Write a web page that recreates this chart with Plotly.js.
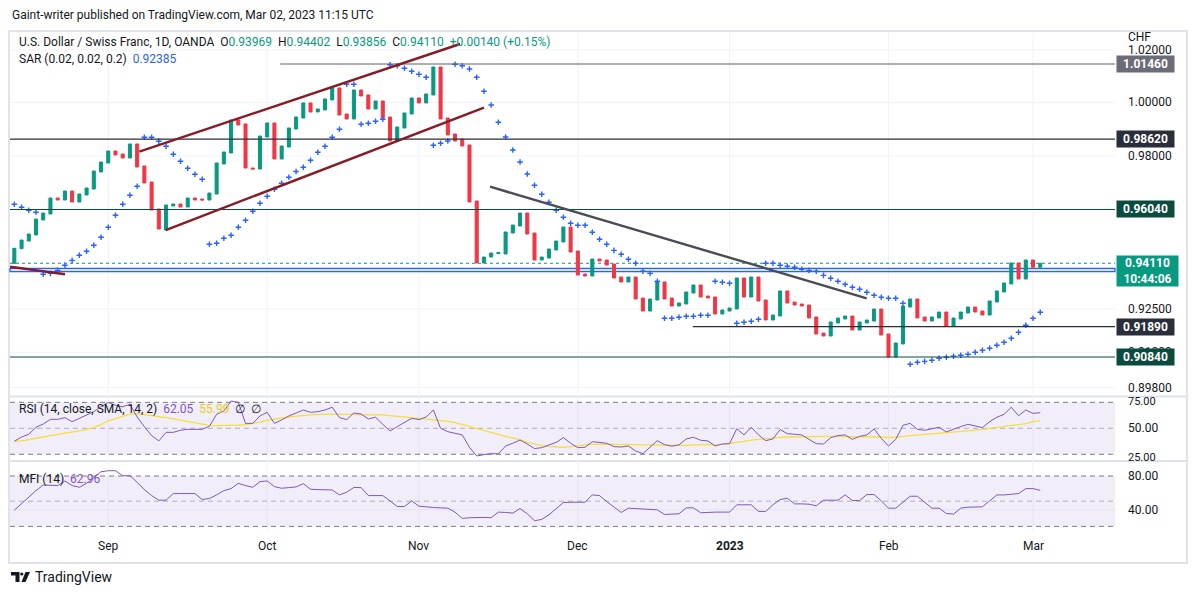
<!DOCTYPE html>
<html><head><meta charset="utf-8">
<script src="https://cdn.plot.ly/plotly-3.0.1.min.js"></script>
<style>html,body{margin:0;padding:0;background:#fff;overflow:hidden}#chart{width:1194px;height:595px}</style>
</head><body><div id="chart"></div>
<script>
// ---------- DATA ----------
const opens=[0.94109,0.94629,0.94904,0.95120,0.95659,0.95876,0.96457,0.96384,0.96712,0.96311,
0.96566,0.96785,0.97408,0.97739,0.98183,0.98072,0.97924,0.98443,0.97629,0.97040,
0.96057,0.95299,0.96166,0.96239,0.96130,0.96457,0.96420,0.96384,0.96602,0.97702,
0.98109,0.99338,0.99189,0.97555,0.97518,0.98703,0.99226,0.97887,0.98331,0.99001,
0.99413,0.99978,0.99639,0.99714,1.00091,1.00545,0.99564,0.99376,1.00469,1.00280,
0.99752,1.00053,0.99451,0.98554,0.99039,0.99564,1.00167,0.99978,1.00280,1.01345,
0.99413,0.98815,0.98628,0.98406,0.96348,0.94120,0.94333,0.94457,0.94440,0.95191,
0.95443,0.95912,0.95191,0.94226,0.94297,0.94582,0.94868,0.95407,0.94546,0.93730,
0.93659,0.94262,0.94226,0.94084,0.93624,0.93448,0.93624,0.92885,0.92430,0.92815,
0.93448,0.92885,0.92605,0.92675,0.93061,0.93342,0.92955,0.92920,0.92326,0.92430,
0.92500,0.93589,0.92920,0.93624,0.92815,0.92117,0.92256,0.93131,0.92745,0.92675,
0.92640,0.92222,0.91666,0.91563,0.92013,0.92152,0.92256,0.91770,0.92013,0.92082,
0.92500,0.91632,0.90840,0.91287,0.92570,0.92850,0.92222,0.92082,0.92187,0.92395,
0.91909,0.92152,0.92361,0.92570,0.92430,0.92291,0.92745,0.93096,0.93378,0.94120,
0.93553,0.94226,0.93969];
const closes=[0.94643,0.94940,0.95155,0.95695,0.95912,0.96457,0.96384,0.96712,0.96311,0.96602,
0.96821,0.97444,0.97776,0.98183,0.98035,0.97924,0.98443,0.97592,0.97004,0.96021,
0.95335,0.96203,0.96239,0.96130,0.96457,0.96384,0.96384,0.96639,0.97739,0.98146,
0.99338,0.99151,0.97555,0.97518,0.98740,0.99226,0.97887,0.98368,0.99039,0.99451,
0.99978,0.99639,0.99752,1.00129,1.00545,0.99526,0.99376,1.00469,1.00242,0.99752,
1.00053,0.99413,0.98554,0.99076,0.99601,1.00167,0.99978,1.00318,1.01345,0.99376,
0.98778,0.98554,0.98368,0.96311,0.94120,0.94333,0.94475,0.94493,0.95227,0.95479,
0.95912,0.95155,0.94226,0.94333,0.94618,0.94904,0.95407,0.94511,0.93695,0.93659,
0.94262,0.94191,0.94049,0.93589,0.93448,0.93624,0.92850,0.92430,0.92850,0.93448,
0.92850,0.92605,0.92710,0.93096,0.93342,0.92920,0.92885,0.92326,0.92465,0.92535,
0.93589,0.92920,0.93624,0.92780,0.92117,0.92291,0.93131,0.92710,0.92640,0.92605,
0.92187,0.91632,0.91563,0.92048,0.92187,0.92256,0.91770,0.92048,0.92117,0.92500,
0.91597,0.90840,0.91322,0.92605,0.92850,0.92187,0.92082,0.92222,0.92395,0.91909,
0.92187,0.92395,0.92570,0.92395,0.92291,0.92780,0.93131,0.93413,0.94120,0.93553,
0.94226,0.93969,0.94110];
const sar=[0.96228,0.96119,0.96010,0.95938,0.93719,0.93754,0.93860,0.94038,0.94215,0.94393,
0.94536,0.94750,0.95037,0.95396,0.95829,0.96228,0.96555,0.96883,0.98692,0.98692,
0.98543,0.98357,0.98061,0.97802,0.97544,0.97323,0.97140,0.94786,0.94822,0.95001,
0.95109,0.95396,0.95648,0.95974,0.96264,0.96519,0.96774,0.96993,0.97213,0.97426,
0.97581,0.97839,0.98135,0.98357,0.98692,0.98990,1.00686,1.00686,0.99177,0.99215,
0.99289,0.99364,1.01433,1.01395,1.01295,1.01180,1.01066,1.00952,0.98394,0.98469,
0.98554,1.01448,1.01395,1.01268,1.00952,1.00420,0.99903,0.99252,0.98703,0.98220,
0.97776,0.97334,0.96920,0.96591,0.96300,0.96010,0.95757,0.95540,0.95468,0.95468,
0.95216,0.94965,0.94786,0.94571,0.94429,0.94251,0.94109,0.93825,0.93754,0.93472,
0.92176,0.92176,0.92211,0.92246,0.92246,0.92281,0.92281,0.93472,0.93437,0.93402,
0.92002,0.92037,0.92072,0.92141,0.94109,0.94109,0.94038,0.94002,0.93967,0.93896,
0.93860,0.93825,0.93683,0.93578,0.93472,0.93367,0.93261,0.93191,0.93085,0.92980,
0.92910,0.92875,0.92875,0.92700,0.90590,0.90658,0.90692,0.90727,0.90795,0.90830,
0.90864,0.90898,0.90933,0.91001,0.91070,0.91139,0.91242,0.91346,0.91484,0.91691,
0.91933,0.92176,0.92385];
const rsi=[40.0,43.3,45.4,50.8,53.3,56.9,56.9,58.2,55.1,57.7,
59.7,62.8,66.7,70.0,67.7,66.5,68.5,58.7,51.3,44.4,
40.3,46.9,46.9,48.5,49.2,49.2,49.2,51.5,60.8,63.3,
71.0,70.0,53.8,53.8,59.5,62.3,53.8,56.4,59.5,61.8,
64.1,62.3,62.8,64.1,66.2,58.2,56.7,61.8,61.0,57.2,
58.5,53.1,47.9,51.3,54.4,57.7,56.7,58.7,64.1,50.0,
47.4,46.2,44.9,35.4,28.7,29.7,30.5,30.3,36.4,38.5,
41.0,37.9,34.4,35.1,37.2,39.2,42.8,38.5,35.1,35.4,
39.7,39.2,38.5,35.9,35.6,36.4,32.6,30.5,35.4,40.5,
37.4,36.2,37.2,41.8,43.1,40.8,40.3,36.4,37.9,38.2,
49.7,44.9,50.8,44.9,40.5,41.8,49.0,45.9,45.4,44.9,
41.5,38.2,37.9,42.8,44.4,44.9,41.5,43.8,44.9,49.5,
42.3,36.4,41.5,52.3,53.8,49.2,48.5,49.5,50.8,47.2,
49.5,51.3,53.1,51.8,50.5,55.1,58.5,60.8,66.2,59.7,
64.1,61.5,62.05];
const rsiMa=[40.0,40.3,41.3,42.1,43.3,44.4,45.3,46.2,47.1,47.9,
49.0,50.8,52.8,55.8,57.7,59.5,61.0,61.3,60.7,59.8,
59.0,58.2,57.2,56.2,54.9,53.9,52.9,52.2,52.1,52.1,
52.1,52.4,52.9,53.6,54.8,56.2,57.2,58.1,58.7,59.4,
60.0,60.4,60.8,60.9,61.0,60.9,60.8,60.8,60.3,60.3,
60.3,60.3,59.7,59.2,58.7,58.1,57.6,57.2,56.8,56.2,
55.4,54.3,52.8,51.3,49.6,47.8,46.4,45.1,43.8,42.5,
41.2,39.2,37.8,36.7,35.9,35.4,35.4,35.9,36.7,37.2,
37.6,37.9,37.8,37.7,37.6,37.3,37.1,37.0,36.9,36.8,
36.7,36.7,36.8,36.9,37.2,37.3,37.4,37.4,37.7,38.5,
39.0,40.0,40.9,41.5,41.9,42.5,43.1,43.3,43.5,43.6,
43.7,43.8,43.8,43.8,43.8,43.8,43.8,43.7,43.6,43.6,
43.3,42.9,43.1,43.8,44.4,44.9,45.2,45.5,45.9,46.4,
46.9,47.4,47.9,48.4,49.0,50.0,50.8,51.5,52.1,52.7,
53.6,55.1,55.99];
const mfi=[39.3,47.2,55.9,62.6,69.3,68.6,68.6,74.1,68.6,66.6,
71.3,78.0,85.1,86.3,86.3,80.4,80.4,72.5,63.8,56.7,
51.2,51.2,59.1,59.1,59.1,59.1,52.0,53.2,57.5,62.6,
65.0,71.3,68.6,66.6,73.3,74.1,67.4,65.4,66.2,67.0,
70.9,64.2,63.8,63.8,63.4,57.5,60.7,66.4,66.2,56.7,
56.7,56.7,50.4,43.7,43.7,50.4,44.1,42.9,42.5,42.1,
41.7,37.0,29.5,30.3,30.7,30.7,30.3,37.0,36.6,35.8,
41.3,35.0,26.7,28.3,33.8,40.9,48.4,48.8,48.8,48.8,
57.5,56.7,49.6,43.3,36.6,41.7,41.3,40.5,40.5,39.7,
34.2,34.2,35.0,42.1,42.1,36.2,37.0,37.0,37.0,37.0,
45.7,46.0,45.7,37.8,37.8,45.7,52.0,53.5,46.8,46.8,
46.4,44.5,51.2,51.2,51.2,57.5,50.8,50.8,57.9,57.9,
50.4,41.7,41.7,48.8,55.9,55.9,48.8,41.7,41.7,35.4,
34.6,41.7,42.9,43.3,43.3,50.4,57.5,57.5,57.9,59.1,
65.0,65.0,62.96];
const monthLabels=["Sep","Oct","Nov","Dec","2023","Feb","Mar"];
const monthIdx=[13,35,56,78,99,121,141];
const priceTicks=[1.02,1.00,0.98,0.925,0.91,0.898];
const priceTickText=["1.02000","1.00000","0.98000","0.92500","0.91000","0.89800"];
const levelPrices=[1.0146,0.9862,0.9604,0.9189,0.9084];
const levelText=["1.01460","0.98620","0.96040","0.91890","0.90840"];
const levelStartIdx=[36.8,null,null,93.9,null];
const lastPrice=0.94110, lastTimer="10:44:06";
const zonePrices=[0.93931,0.93811];
// trendlines: [idx0, price0, idx1, price1]
const channelUpper=[17.3,0.98157,61.69,1.02228];
const channelLower=[20.96,0.95299,65.01,0.99800];
const shortLine=[-0.6,0.93988,7.02,0.93719];
const downLine=[65.84,0.96869,117.98,0.92875];
const rsiLevels=[70,50,30], mfiLevels=[80,50,20];
const rsiTicks=[75,50,25], mfiTicks=[80,40];

// ---------- LAYOUT HELPERS ----------
const W=1194,H=595;
const PX=x=>x/W, PY=y=>1-y/H;
const L=Math.log10;
const FONT='Roboto, Arial, sans-serif';
const DARK='#131722', GREEN='#089981', RED='#f23645', BLUE='#2962ff', PURPLE='#7e57c2', YEL='#f5df3d';
const idx=opens.map((_,i)=>i);
const highs=opens.map((o,i)=>Math.max(o,closes[i]));
const lows=opens.map((o,i)=>Math.min(o,closes[i]));
const XR=[-0.6,152.35];

const traces=[
 {type:'candlestick',x:idx,open:opens,high:highs,low:lows,close:closes,xaxis:'x',yaxis:'y',
  increasing:{line:{color:GREEN,width:1},fillcolor:GREEN},decreasing:{line:{color:RED,width:1},fillcolor:RED},
  whiskerwidth:0,hoverinfo:'skip',showlegend:false},
 {type:'scatter',mode:'markers',x:idx,y:sar,xaxis:'x',yaxis:'y',
  marker:{symbol:'cross-thin',size:4,color:BLUE,line:{color:BLUE,width:1.4}},hoverinfo:'skip',showlegend:false},
 {type:'scatter',mode:'lines',x:idx,y:rsiMa,xaxis:'x',yaxis:'y2',line:{color:YEL,width:1.3},hoverinfo:'skip',showlegend:false},
 {type:'scatter',mode:'lines',x:idx,y:rsi,xaxis:'x',yaxis:'y2',line:{color:PURPLE,width:1},hoverinfo:'skip',showlegend:false},
 {type:'scatter',mode:'lines',x:idx,y:mfi,xaxis:'x',yaxis:'y3',line:{color:PURPLE,width:1},hoverinfo:'skip',showlegend:false}
];

const shapes=[];
const ann=[];
// frame and separators
shapes.push({type:'rect',xref:'paper',yref:'paper',x0:PX(9),x1:PX(1187),y0:PY(563),y1:PY(31),line:{color:'#e0e3eb',width:2},layer:'below'});
[396.5,461].forEach(y=>shapes.push({type:'line',xref:'paper',yref:'paper',x0:PX(9),x1:PX(1187),y0:PY(y),y1:PY(y),line:{color:'#e0e3eb',width:2},layer:'below'}));
// vertical month grid
monthIdx.forEach(m=>shapes.push({type:'line',xref:'x',yref:'paper',x0:m,x1:m,y0:PY(531),y1:PY(33),line:{color:'#f0f3fa',width:1},layer:'below'}));
// horizontal price grid (shape coordinates on the log axis are given in data values)
priceTicks.forEach(p=>shapes.push({type:'line',xref:'paper',yref:'y',x0:PX(10),x1:PX(1115),y0:p,y1:p,line:{color:'#f0f3fa',width:1},layer:'below'}));
// indicator bands
shapes.push({type:'rect',xref:'paper',yref:'y2',x0:PX(10),x1:PX(1115),y0:30,y1:70,fillcolor:'rgba(126,87,194,0.1)',line:{width:0},layer:'below'});
shapes.push({type:'rect',xref:'paper',yref:'y3',x0:PX(10),x1:PX(1115),y0:20,y1:80,fillcolor:'rgba(126,87,194,0.1)',line:{width:0},layer:'below'});
shapes.push({type:'line',xref:'paper',yref:'y3',x0:PX(10),x1:PX(1115),y0:40,y1:40,line:{color:'#e6e3ee',width:1},layer:'below'});
rsiLevels.forEach(v=>shapes.push({type:'line',xref:'paper',yref:'y2',x0:PX(10),x1:PX(1115),y0:v,y1:v,line:{color:v===50?'rgba(120,123,134,0.55)':'#787b86',width:1,dash:'5px,4px'},layer:'below'}));
mfiLevels.forEach(v=>shapes.push({type:'line',xref:'paper',yref:'y3',x0:PX(10),x1:PX(1115),y0:v,y1:v,line:{color:v===50?'rgba(120,123,134,0.55)':'#787b86',width:1,dash:'5px,4px'},layer:'below'}));
// blue zone
shapes.push({type:'rect',xref:'paper',yref:'y',x0:PX(10),x1:PX(1115),y0:zonePrices[0],y1:zonePrices[1],fillcolor:'rgba(41,98,255,0.18)',line:{color:BLUE,width:1.3},layer:'below'});
// last price dotted line
shapes.push({type:'line',xref:'paper',yref:'y',x0:PX(10),x1:PX(1115),y0:lastPrice,y1:lastPrice,line:{color:GREEN,width:1,dash:'dot'},layer:'below'});
// horizontal levels
const levelColors=['#5d606b','#2a2e39','#0b4a3e','#2a2e39','#0b4a3e'];
const levelBg=['#6a6d78','#2a2e39','#0b4a3e','#2a2e39','#0b4a3e'];
levelPrices.forEach((p,i)=>{
  const s=levelStartIdx[i];
  shapes.push({type:'line',xref:s===null?'paper':'x',yref:'y',x0:s===null?PX(10):s,x1:s===null?PX(1115):XR[1],y0:p,y1:p,line:{color:levelColors[i],width:1.2}});
});
// trendlines
function tl(a,color,w){shapes.push({type:'line',xref:'x',yref:'y',x0:a[0],y0:a[1],x1:a[2],y1:a[3],line:{color:color,width:w}});}
tl(channelUpper,'#861c25',2.4);
tl(channelLower,'#861c25',2.4);
tl(shortLine,'#861c25',2.4);
tl(downLine,'#4a4d57',2.4);

// price tick labels (annotations on the log axis use log10 positions)
priceTicks.forEach((p,i)=>ann.push({xref:'paper',yref:'y',x:PX(1126),y:L(p),xanchor:'left',yanchor:'middle',text:priceTickText[i],showarrow:false,font:{family:FONT,size:12,color:DARK}}));
rsiTicks.forEach((v,i)=>ann.push({xref:'paper',yref:'paper',x:PX(1126),y:PY([401,428.3,457][i]),xanchor:'left',yanchor:'middle',text:v.toFixed(2),showarrow:false,font:{family:FONT,size:i===1?12:11,color:DARK}}));
mfiTicks.forEach(v=>ann.push({xref:'paper',yref:'y3',x:PX(1126),y:v,xanchor:'left',yanchor:'middle',text:v.toFixed(2),showarrow:false,font:{family:FONT,size:12,color:DARK}}));
ann.push({xref:'paper',yref:'paper',x:PX(1126),y:PY(37),xanchor:'left',yanchor:'middle',text:'CHF',showarrow:false,font:{family:FONT,size:12,color:DARK}});
// level boxes
levelPrices.forEach((p,i)=>ann.push({xref:'paper',yref:'y',x:PX(1116),y:L(p),xanchor:'left',yanchor:'middle',text:levelText[i],showarrow:false,
  bgcolor:levelBg[i],width:55,height:14,borderpad:1,font:{family:FONT,size:12,color:'#ffffff',weight:'bold'}}));
ann.push({xref:'paper',yref:'y',x:PX(1116),y:L(lastPrice),xanchor:'left',yanchor:'top',text:lastPrice.toFixed(5)+'<br>'+lastTimer,showarrow:false,
  bgcolor:GREEN,width:59,height:28,borderpad:1,yshift:8,font:{family:FONT,size:12,color:'#ffffff',weight:'bold'}});
// month labels
monthLabels.forEach((m,i)=>ann.push({xref:'x',yref:'paper',x:monthIdx[i],y:PY(546),xanchor:'center',yanchor:'middle',text:m==='2023'?'<b>2023</b>':m,showarrow:false,font:{family:FONT,size:12,color:DARK}}));
// header & legends
const sp='\u00a0';
const g=t=>'<span style="color:'+GREEN+'">'+t+'</span>';
ann.push({xref:'paper',yref:'paper',x:PX(10),y:PY(15),xanchor:'left',yanchor:'middle',showarrow:false,text:'Gaint-writer published on TradingView.com, Mar 02, 2023 11:15 UTC',font:{family:FONT,size:12,color:DARK}});
ann.push({xref:'paper',yref:'paper',x:PX(17),y:PY(42),xanchor:'left',yanchor:'middle',showarrow:false,
 text:'U.S. Dollar / Swiss Franc, 1D, OANDA'+sp+sp+'O'+g(opens[142].toFixed(5))+sp+sp+'H'+g('0.94402')+sp+sp+'L'+g('0.93856')+sp+sp+'C'+g(closes[142].toFixed(5))+sp+sp+g('+0.00140 (+0.15%)'),
 font:{family:FONT,size:12,color:DARK}});
ann.push({xref:'paper',yref:'paper',x:PX(17),y:PY(59),xanchor:'left',yanchor:'middle',showarrow:false,
 text:'SAR (0.02, 0.02, 0.2)'+sp+sp+'<span style="color:'+BLUE+'">'+sar[142].toFixed(5)+'</span>',font:{family:FONT,size:12,color:DARK}});
ann.push({xref:'paper',yref:'paper',x:PX(17),y:PY(409),xanchor:'left',yanchor:'middle',showarrow:false,
 text:'RSI (14, close, SMA, 14, 2)'+sp+sp+'<span style="color:'+PURPLE+'">'+rsi[142].toFixed(2)+'</span>'+sp+sp+'<span style="color:#e8cf1c">'+rsiMa[142].toFixed(2)+'</span>'+sp+sp+'∅'+sp+sp+'∅',
 font:{family:FONT,size:12,color:DARK}});
ann.push({xref:'paper',yref:'paper',x:PX(17),y:PY(479),xanchor:'left',yanchor:'middle',showarrow:false,
 text:'MFI (14)'+sp+sp+'<span style="color:'+PURPLE+'">'+mfi[142].toFixed(2)+'</span>',font:{family:FONT,size:12,color:DARK}});
ann.push({xref:'paper',yref:'paper',x:PX(33),y:PY(577),xanchor:'left',yanchor:'middle',showarrow:false,text:'TradingView',font:{family:FONT,size:14,color:DARK}});
// TradingView logo
const P=(x,y)=>PX(x).toFixed(5)+','+PY(y).toFixed(5);
shapes.push({type:'path',xref:'paper',yref:'paper',path:'M'+P(11,572)+'L'+P(19.5,572)+'L'+P(19.5,582)+'L'+P(15.5,582)+'L'+P(15.5,575.5)+'L'+P(11,575.5)+'Z',fillcolor:DARK,line:{width:0}});
shapes.push({type:'circle',xref:'paper',yref:'paper',x0:PX(20.2),x1:PX(23.4),y0:PY(575.6),y1:PY(572.4),fillcolor:DARK,line:{width:0}});
shapes.push({type:'path',xref:'paper',yref:'paper',path:'M'+P(25.5,572)+'L'+P(30,572)+'L'+P(25.5,582)+'L'+P(21.5,582)+'Z',fillcolor:DARK,line:{width:0}});

const axCommon={showgrid:false,zeroline:false,showticklabels:false,showline:false,ticks:'',fixedrange:true};
const layout={
 width:W,height:H,margin:{l:0,r:0,t:0,b:0},paper_bgcolor:'#ffffff',plot_bgcolor:'rgba(0,0,0,0)',
 showlegend:false,hovermode:false,boxgap:0.4,
 xaxis:Object.assign({},axCommon,{domain:[PX(10),PX(1115)],range:XR,rangeslider:{visible:false}}),
 yaxis:Object.assign({},axCommon,{type:'log',domain:[PY(395),PY(33)],range:[L(0.89547),L(1.02653)]}),
 yaxis2:Object.assign({},axCommon,{domain:[PY(460),PY(397)],range:[25.6,74.1]}),
 yaxis3:Object.assign({},axCommon,{domain:[PY(531),PY(462)],range:[14.5,96.7]}),
 shapes:shapes,annotations:ann,font:{family:FONT}
};
Plotly.newPlot('chart',traces,layout,{staticPlot:true,displayModeBar:false});
</script></body></html>
